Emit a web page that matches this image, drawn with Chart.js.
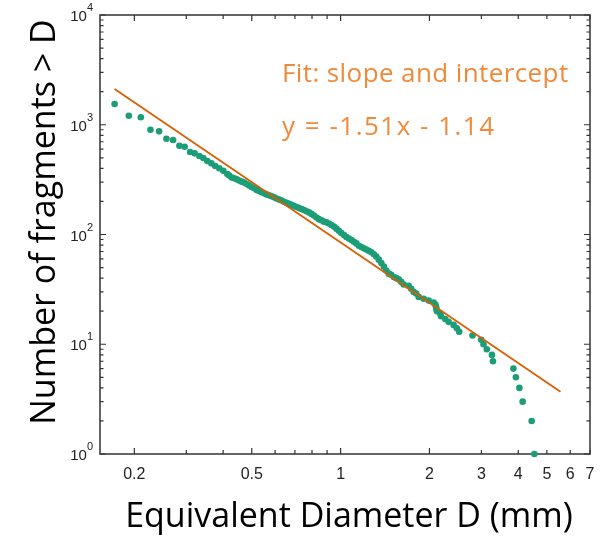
<!DOCTYPE html>
<html>
<head>
<meta charset="utf-8">
<script src="https://cdn.jsdelivr.net/npm/chart.js@4.4.1/dist/chart.umd.min.js"></script>
<style>
  html, body { margin: 0; padding: 0; background: #fff; }
</style>
</head>
<body>
<canvas id="chart" width="613" height="537"></canvas>
<script>
// fragment size distribution (D in mm, N = count larger than D)
const diameters = [
  0.1715, 0.1916, 0.2104, 0.2268, 0.2427, 0.2569, 0.2706, 0.2843, 0.2962, 0.3090,
  0.3201, 0.3321, 0.3426, 0.3534, 0.3646, 0.3762, 0.3880, 0.4004, 0.4130, 0.4195,
  0.4277, 0.4360, 0.4446, 0.4533, 0.4623, 0.4714, 0.4806, 0.4900, 0.4995, 0.5095,
  0.5194, 0.5297, 0.5400, 0.5507, 0.5615, 0.5726, 0.5838, 0.5953, 0.6069, 0.6189,
  0.6310, 0.6433, 0.6560, 0.6689, 0.6821, 0.6956, 0.7091, 0.7232, 0.7372, 0.7516,
  0.7665, 0.7816, 0.7969, 0.8125, 0.8284, 0.8445, 0.8612, 0.8781, 0.8954, 0.9130,
  0.9309, 0.9493, 0.9678, 0.9869, 1.006, 1.026, 1.046, 1.067, 1.088, 1.109,
  1.131, 1.153, 1.176, 1.199, 1.222, 1.246, 1.271, 1.296, 1.321, 1.347,
  1.374, 1.401, 1.428, 1.456, 1.484, 1.514, 1.543, 1.574, 1.605, 1.636,
  1.701, 1.735, 1.768, 1.804, 1.839, 1.912, 1.988, 2.067, 2.094, 2.105,
  2.112, 2.120, 2.177, 2.190, 2.263, 2.322, 2.414, 2.477, 2.523, 2.799,
  2.995, 3.049, 3.128, 3.257, 3.283, 3.851, 3.926, 4.034, 4.139, 4.440,
  4.534
];
const counts = [
  1545, 1208, 1169, 901, 871, 746, 726, 644, 631, 565,
  549, 519, 498, 467, 445, 421, 401, 381, 356, 345,
  331, 325, 318, 310, 303, 297, 288, 280, 271, 264,
  255, 249, 243, 237, 232, 228, 223, 218, 213, 208,
  204, 199, 194, 190, 186, 182, 178, 174, 171, 167,
  163, 159, 154, 149, 143, 138, 135, 131, 129, 126,
  122, 118, 113, 108, 103, 99, 95, 92, 89, 86,
  83, 79, 77, 75, 73, 71, 69, 66, 63, 59,
  55, 51, 47, 44, 43, 41, 40, 39, 37, 35,
  34, 32, 30, 29, 27, 26, 25, 24, 23, 22,
  21, 20, 19, 18, 17, 16, 15, 14, 13, 12,
  11, 10, 9, 8, 7, 6, 5, 4, 3, 2,
  1
];

// power-law fit, drawn between its two end points
const fitDiameters = [0.1715, 5.56];
const fitCounts = [2120, 3.7];

const xTicks = [0.2, 0.3, 0.4, 0.5, 0.6, 0.7, 0.8, 0.9, 1, 2, 3, 4, 5, 6, 7];
const xTickLabels = ["0.2", "", "", "0.5", "", "", "", "", "1", "2", "3", "4", "5", "6", "7"];
const yTicks = [
  1, 2, 3, 4, 5, 6, 7, 8, 9,
  10, 20, 30, 40, 50, 60, 70, 80, 90,
  100, 200, 300, 400, 500, 600, 700, 800, 900,
  1000, 2000, 3000, 4000, 5000, 6000, 7000, 8000, 9000, 10000
];
const yDecades = [1, 10, 100, 1000, 10000];
const yExponents = ["0", "1", "2", "3", "4"];

const xTitle = "Equivalent Diameter D (mm)";
const yTitle = "Number of fragments > D";
const fitText = ["Fit: slope and intercept", "y = -1.51x - 1.14"];

const green = "#1B9E77";
const orange = "#D95F02";
const textOrange = "#EF8A3A";

// MATLAB style box with inward tick marks, plus the texts
const boxPlugin = {
  id: "boxPlugin",
  beforeDatasetsDraw(chart) {
    const { ctx, chartArea: a, scales } = chart;
    ctx.save();
    ctx.strokeStyle = "#333";
    ctx.lineWidth = 1.5;
    ctx.strokeRect(a.left, a.top, a.right - a.left, a.bottom - a.top);
    ctx.lineWidth = 1.2;
    ctx.beginPath();
    xTicks.forEach((v, i) => {
      const x = scales.x.getPixelForValue(v);
      const len = ["0.2", "0.5", "1", "2"].includes(xTickLabels[i]) ? 6 : 4;
      ctx.moveTo(x, a.bottom);
      ctx.lineTo(x, a.bottom - len);
      ctx.moveTo(x, a.top);
      ctx.lineTo(x, a.top + len);
    });
    yTicks.forEach((v) => {
      const y = scales.y.getPixelForValue(v);
      const len = yDecades.includes(v) ? 6 : 3.5;
      ctx.moveTo(a.left, y);
      ctx.lineTo(a.left + len, y);
      ctx.moveTo(a.right, y);
      ctx.lineTo(a.right - len, y);
    });
    ctx.stroke();
    ctx.restore();
  },
  afterDraw(chart) {
    const { ctx, scales } = chart;
    ctx.save();

    // y tick labels as 10 with a raised exponent
    ctx.fillStyle = "#222";
    ctx.textAlign = "right";
    ctx.textBaseline = "middle";
    yDecades.forEach((v, i) => {
      const y = scales.y.getPixelForValue(v);
      ctx.font = "11px 'Liberation Sans', Arial";
      ctx.fillText(yExponents[i], 93, y - 7);
      const w = ctx.measureText(yExponents[i]).width;
      ctx.font = "15px 'Liberation Sans', Arial";
      ctx.fillText("10", 93 - w, y + 2);
    });

    // axis titles
    ctx.fillStyle = "#000";
    ctx.textAlign = "center";
    ctx.font = "34px 'Open Sans'";
    ctx.fillText(xTitle, 349, 517);
    ctx.translate(45, 222);
    ctx.rotate(-Math.PI / 2);
    ctx.fillText(yTitle, 0, 0);
    ctx.setTransform(1, 0, 0, 1, 0, 0);

    // fit annotation
    ctx.fillStyle = textOrange;
    ctx.textAlign = "left";
    ctx.font = "26px 'Open Sans'";
    ctx.letterSpacing = "0.4px";
    ctx.fillText(fitText[0], 282, 75);
    ctx.letterSpacing = "1.5px";
    ctx.fillText(fitText[1], 282, 128);
    ctx.restore();
  }
};

const ctx = document.getElementById("chart").getContext("2d");
new Chart(ctx, {
  type: "scatter",
  data: {
    datasets: [
      {
        label: "Fragments",
        data: diameters.map((d, i) => ({ x: d, y: counts[i] })),
        backgroundColor: green,
        borderWidth: 0,
        pointRadius: 3.3,
        clip: false,
        order: 1,
      },
      {
        label: "Fit",
        type: "line",
        data: fitDiameters.map((d, i) => ({ x: d, y: fitCounts[i] })),
        borderColor: orange,
        borderWidth: 1.8,
        pointRadius: 0,
        fill: false,
        order: 0,
      },
    ],
  },
  options: {
    responsive: false,
    animation: false,
    layout: { padding: { top: 15, right: 23, left: 0, bottom: 0 } },
    plugins: {
      legend: { display: false },
      tooltip: { enabled: false },
    },
    scales: {
      x: {
        type: "logarithmic",
        min: 0.153,
        max: 7,
        afterBuildTicks: (scale) => {
          scale.ticks = xTicks.map((v) => ({ value: v }));
        },
        afterFit: (scale) => {
          scale.height = 83;
        },
        grid: { display: false, drawTicks: false },
        border: { display: false },
        ticks: {
          autoSkip: false,
          maxRotation: 0,
          padding: 11,
          color: "#222",
          font: { family: "'Liberation Sans', Arial", size: 16 },
          callback: (value, index) => xTickLabels[index],
        },
      },
      y: {
        type: "logarithmic",
        min: 1,
        max: 10000,
        afterBuildTicks: (scale) => {
          scale.ticks = yTicks.map((v) => ({ value: v }));
        },
        afterFit: (scale) => {
          scale.width = 100;
        },
        grid: { display: false, drawTicks: false },
        border: { display: false },
        ticks: { display: false },
      },
    },
  },
  plugins: [boxPlugin],
});
</script>
</body>
</html>
